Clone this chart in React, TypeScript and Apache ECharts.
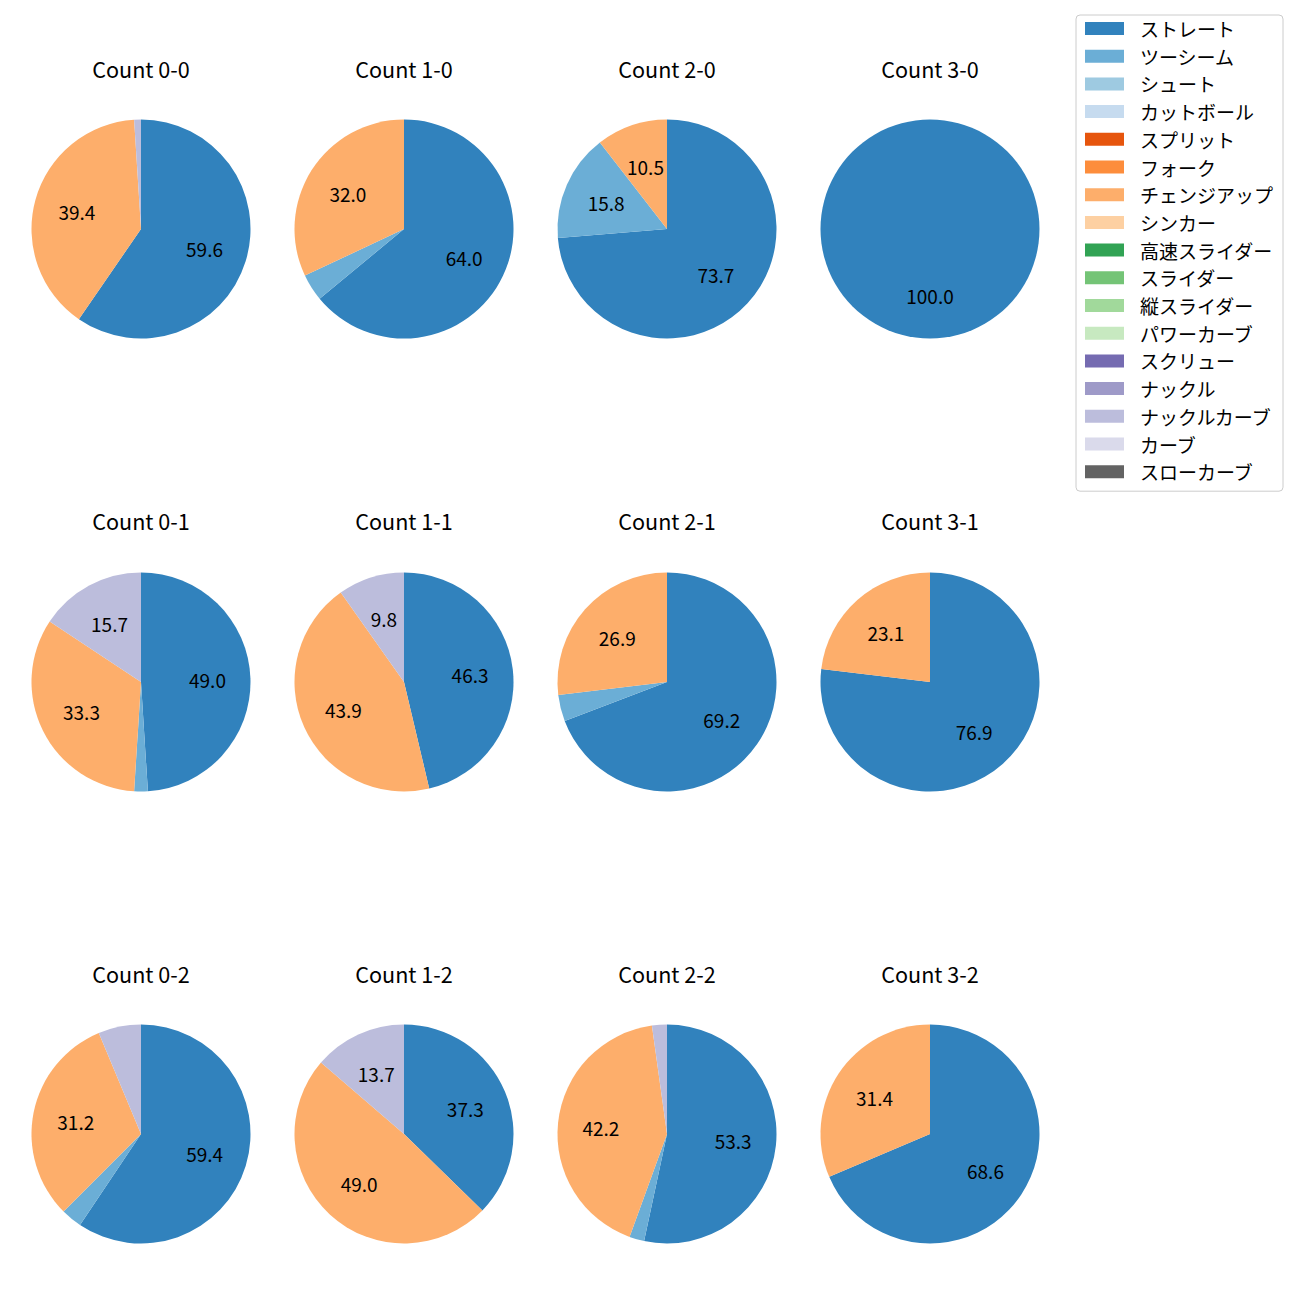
import React, { useEffect, useRef } from "react";
import * as echarts from "echarts";

const pitchNames = [
  "ストレート", "ツーシーム", "シュート", "カットボール", "スプリット", "フォーク",
  "チェンジアップ", "シンカー", "高速スライダー", "スライダー", "縦スライダー", "パワーカーブ",
  "スクリュー", "ナックル", "ナックルカーブ", "カーブ", "スローカーブ",
];
const pitchColors = [
  "#3182bd", "#6baed6", "#9ecae1", "#c6dbef", "#e6550d", "#fd8d3c",
  "#fdae6b", "#fdd0a2", "#31a354", "#74c476", "#a1d99b", "#c7e9c0",
  "#756bb1", "#9e9ac8", "#bcbddc", "#dadaeb", "#636363",
];

// pitches that appear in the pies, in legend order
const usedPitches = ["ストレート", "ツーシーム", "チェンジアップ", "ナックルカーブ"];

const countLabels = ["0-0", "1-0", "2-0", "3-0", "0-1", "1-1", "2-1", "3-1", "0-2", "1-2", "2-2", "3-2"];

// percentages per count, aligned with usedPitches
const count00 = [59.6, 0, 39.4, 1.0];
const count10 = [64.0, 4.0, 32.0, 0];
const count20 = [73.7, 15.8, 10.5, 0];
const count30 = [100.0, 0, 0, 0];
const count01 = [49.0, 2.0, 33.3, 15.7];
const count11 = [46.3, 0, 43.9, 9.8];
const count21 = [69.2, 3.9, 26.9, 0];
const count31 = [76.9, 0, 23.1, 0];
const count02 = [59.4, 3.1, 31.2, 6.3];
const count12 = [37.3, 0, 49.0, 13.7];
const count22 = [53.3, 2.2, 42.2, 2.2];
const count32 = [68.6, 0, 31.4, 0];

const countValues = [
  count00, count10, count20, count30,
  count01, count11, count21, count31,
  count02, count12, count22, count32,
];

const LABEL_MIN = 7;

const FONT = "'Noto Sans CJK JP', 'Noto Sans', sans-serif";
const colX = [141, 404, 667, 930];
const rowY = [229, 682, 1134];
const titleY = [68, 520, 973];
const R = 109.5;

function colorOf(name: string) {
  return pitchColors[pitchNames.indexOf(name)];
}

export default function App() {
  const ref = useRef<HTMLDivElement>(null);

  useEffect(() => {
    document.body.style.margin = "0";
    if (!ref.current) return;
    const chart = echarts.init(ref.current, null, { renderer: "svg" });

    const series: any[] = [];
    // dummy series so every pitch type appears in the legend
    series.push({
      type: "pie",
      center: [-500, -500],
      radius: 0,
      silent: true,
      label: { show: false },
      labelLine: { show: false },
      data: pitchNames.map((n, i) => ({ name: n, value: 1, itemStyle: { color: pitchColors[i] } })),
    });

    const graphics: any[] = [];

    countLabels.forEach((lab, idx) => {
      const col = idx % 4;
      const row = Math.floor(idx / 4);
      const vals = countValues[idx];
      const data = usedPitches
        .map((n, i) => ({ name: n, value: vals[i], itemStyle: { color: colorOf(n) } }))
        .filter((d) => d.value > 0);
      const center = [colX[col], rowY[row]];
      series.push({
        type: "pie",
        center,
        radius: [0, R],
        startAngle: 90,
        clockwise: true,
        silent: true,
        label: { show: false },
        labelLine: { show: false },
        itemStyle: { borderWidth: 0 },
        emphasis: { disabled: true },
        data,
      });
      series.push({
        type: "pie",
        center,
        radius: [R * 0.16, R],
        startAngle: 90,
        clockwise: true,
        silent: true,
        itemStyle: { color: "rgba(0,0,0,0)", borderWidth: 0 },
        emphasis: { disabled: true },
        labelLine: { show: false },
        label: {
          show: true,
          position: "inside",
          color: "#000",
          fontFamily: FONT,
          fontSize: 19,
          padding: [0, 0, 5, 0],
          formatter: (p: any) => (p.value >= LABEL_MIN ? Number(p.value).toFixed(1) : ""),
        },
        data: data.map((d) => ({ name: d.name, value: d.value, itemStyle: { color: "rgba(0,0,0,0)" } })),
      });
      graphics.push({
        type: "text",
        x: colX[col],
        y: titleY[row],
        style: {
          text: "Count " + lab,
          fill: "#000",
          font: `21.6px ${FONT}`,
          align: "center",
          verticalAlign: "middle",
        },
      });
    });

    chart.setOption({
      animation: false,
      backgroundColor: "#fff",
      legend: {
        orient: "vertical",
        left: 1076,
        top: 15,
        padding: [4, 10, 10, 9],
        itemWidth: 39,
        itemHeight: 13,
        itemGap: 8.7,
        icon: "rect",
        borderColor: "#cccccc",
        borderWidth: 1,
        borderRadius: 4,
        selectedMode: false,
        data: pitchNames,
        textStyle: {
          fontFamily: FONT,
          fontSize: 19,
          lineHeight: 19,
          color: "#000",
          padding: [0, 0, 0, 11],
        },
      },
      graphic: graphics,
      series,
    });

    return () => chart.dispose();
  }, []);

  return <div ref={ref} style={{ width: 1300, height: 1300 }} />;
}
